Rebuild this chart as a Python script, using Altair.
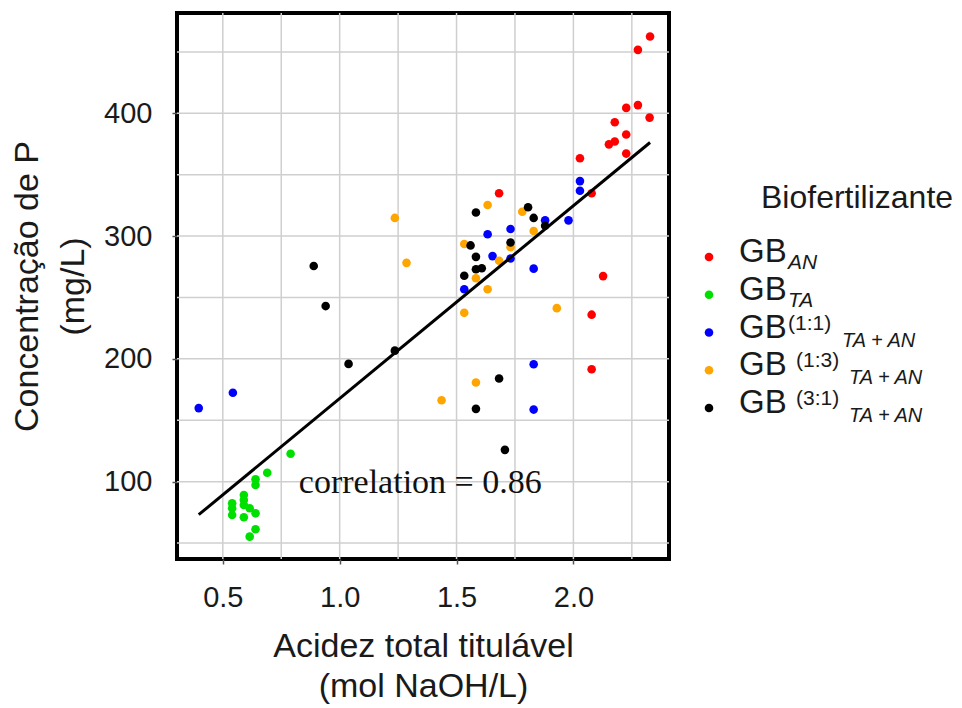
import altair as alt
import pandas as pd

# ---------------- data ----------------
an_x = [2.328, 2.276, 2.276, 2.226, 2.326, 2.177, 2.226, 2.177, 2.152, 2.226, 2.028, 1.682, 2.078, 2.127, 2.078, 2.078]
an_y = [462.5, 451.7, 406.7, 404.4, 396.5, 392.7, 382.8, 377.0, 374.7, 367.2, 363.4, 334.9, 334.9, 267.4, 236.0, 191.6]

ta_x = [0.79, 0.69, 0.64, 0.64, 0.59, 0.59, 0.59, 0.54, 0.54, 0.54, 0.59, 0.615, 0.64, 0.64, 0.615]
ta_y = [122.7, 107.3, 101.9, 97.3, 89.1, 85.1, 81.0, 82.4, 78.3, 72.9, 71.0, 78.3, 74.2, 61.2, 55.2]

m11_x = [0.397, 0.543, 2.028, 2.028, 1.979, 1.879, 1.731, 1.633, 1.654, 1.731, 1.830, 1.533, 1.830, 1.830]
m11_y = [159.9, 172.4, 344.8, 336.9, 312.8, 312.8, 305.8, 301.5, 283.7, 281.7, 273.5, 256.7, 195.6, 158.7]

m13_x = [1.236, 1.633, 1.781, 1.830, 1.533, 1.731, 1.286, 1.682, 1.583, 1.633, 1.533, 1.929, 1.583, 1.436]
m13_y = [314.8, 325.3, 319.8, 304.1, 293.6, 291.0, 278.2, 279.9, 265.7, 256.7, 237.5, 241.3, 180.8, 166.3]

m31_x = [1.806, 1.583, 1.830, 1.879, 1.560, 1.731, 1.583, 1.583, 1.608, 1.533, 0.889, 0.940, 1.236, 1.038, 1.682, 1.583, 1.707]
m31_y = [323.5, 319.2, 314.8, 308.4, 292.4, 294.8, 283.1, 273.0, 273.8, 267.7, 275.6, 243.0, 206.7, 195.9, 184.0, 159.3, 125.9]

groups = ["GB_AN", "GB_TA", "GB_11", "GB_13", "GB_31"]
colors = ["#ff0000", "#00e000", "#0000ff", "#ffa500", "#000000"]

leg_sup = ["", "", "(1:1)", "(1:3)", "(3:1)"]
leg_sub = ["AN", "TA", "TA + AN", "TA + AN", "TA + AN"]
leg_title = "Biofertilizante"

x_ticks = [0.5, 1.0, 1.5, 2.0]
y_ticks = [100, 200, 300, 400]
grid_x = [0.5, 0.75, 1.0, 1.25, 1.5, 1.75, 2.0, 2.25]
grid_y = [50, 100, 150, 200, 250, 300, 350, 400, 450]

x_title = ["Acidez total titulável", "(mol NaOH/L)"]
y_title = ["Concentração de P", "(mg/L)"]
corr_label = "correlation = 0.86"

# ---------------- tables ----------------
rows = []
for g, xs_, ys_ in zip(groups, [an_x, ta_x, m11_x, m13_x, m31_x], [an_y, ta_y, m11_y, m13_y, m31_y]):
    rows += [{"x": a, "y": b, "g": g} for a, b in zip(xs_, ys_)]
df = pd.DataFrame(rows)

leg_df = pd.DataFrame({"g": groups, "i": list(range(len(groups))), "sup": leg_sup, "sub": leg_sub})

SANS = "Liberation Sans, Arial, sans-serif"
SERIF = "Liberation Serif, Times New Roman, serif"
TXT = "#1a1a1a"

xs = alt.Scale(domain=[0.304, 2.409], nice=False, zero=False)
ys = alt.Scale(domain=[37.0, 481.7], nice=False, zero=False)
cs = alt.Scale(domain=groups, range=colors)

grid_v = alt.Chart(pd.DataFrame({"gx": grid_x})).mark_rule(color="#cfcfcf", strokeWidth=1.5).encode(
    x=alt.X("gx:Q", scale=xs))
grid_h = alt.Chart(pd.DataFrame({"gy": grid_y})).mark_rule(color="#cfcfcf", strokeWidth=1.5).encode(
    y=alt.Y("gy:Q", scale=ys))

pts = alt.Chart(df).mark_circle(size=74, opacity=1).encode(
    x=alt.X("x:Q", scale=xs, axis=alt.Axis(values=x_ticks, format=".1f", title=x_title,
                                           labelPadding=19, titlePadding=17, titleFontSize=34,
                                           titleLineHeight=40)),
    y=alt.Y("y:Q", scale=ys, axis=alt.Axis(values=y_ticks, format="d", title=y_title,
                                           labelPadding=20, titlePadding=13, titleFontSize=34,
                                           titleLineHeight=46)),
    color=alt.Color("g:N", scale=cs, legend=None),
)

fit = alt.Chart(df).transform_regression("x", "y").mark_line(color="black", strokeWidth=3).encode(
    x=alt.X("x:Q", scale=xs), y=alt.Y("y:Q", scale=ys))

corr = alt.Chart(pd.DataFrame({"t": [corr_label]})).mark_text(
    font=SERIF, fontSize=34, align="center", baseline="alphabetic", color="#111111").encode(
    x=alt.datum(1.345), y=alt.datum(90.8), text="t:N")

main = alt.layer(grid_v, grid_h, pts, fit, corr)

# ---------------- custom legend (sub/superscripts) ----------------
ly = alt.Y("i:Q", scale=alt.Scale(domain=[0, 4], range=[244, 395]), axis=None)
lb = alt.Chart(leg_df)

l_dots = lb.mark_circle(size=74, opacity=1).encode(
    x=alt.value(532), y=ly, color=alt.Color("g:N", scale=cs, legend=None))
l_gb = lb.mark_text(text="GB", font=SANS, fontSize=33, align="left", baseline="alphabetic",
                    dy=5, color=TXT).encode(x=alt.value(562), y=ly)
l_sub_a = lb.transform_filter("datum.i < 2").mark_text(
    font=SANS, fontSize=21, fontStyle="italic", align="left", baseline="alphabetic", dy=12, color=TXT
).encode(x=alt.value(611), y=ly, text="sub:N")
l_sup_b = lb.transform_filter("datum.i == 2").mark_text(
    font=SANS, fontSize=21, align="left", baseline="alphabetic", dy=-3, color=TXT
).encode(x=alt.value(611), y=ly, text="sup:N")
l_sub_b = lb.transform_filter("datum.i == 2").mark_text(
    font=SANS, fontSize=20, fontStyle="italic", align="left", baseline="alphabetic", dy=14, color=TXT
).encode(x=alt.value(665), y=ly, text="sub:N")
l_sup_c = lb.transform_filter("datum.i > 2").mark_text(
    font=SANS, fontSize=21, align="left", baseline="alphabetic", dy=-3, color=TXT
).encode(x=alt.value(619), y=ly, text="sup:N")
l_sub_c = lb.transform_filter("datum.i > 2").mark_text(
    font=SANS, fontSize=20, fontStyle="italic", align="left", baseline="alphabetic", dy=14, color=TXT
).encode(x=alt.value(672), y=ly, text="sub:N")
l_title = alt.Chart(pd.DataFrame({"t": [leg_title]})).mark_text(
    font=SANS, fontSize=32, align="left", baseline="alphabetic", color=TXT
).encode(x=alt.value(584), y=alt.value(195), text="t:N")

legend = alt.layer(l_dots, l_gb, l_sub_a, l_sup_b, l_sub_b, l_sup_c, l_sub_c, l_title)

chart = alt.layer(main, legend).resolve_scale(y="independent").properties(
    width=492, height=546,
    autosize=alt.AutoSizeParams(type="none"),
    padding={"left": 177, "top": 13, "right": 293, "bottom": 149},
).configure_view(stroke="black", strokeWidth=4).configure_axis(
    grid=False, domain=False,
    labelFont=SANS, labelFontSize=29, labelColor=TXT,
    tickColor="#555555", tickSize=5, tickWidth=1.5,
    titleFont=SANS, titleFontWeight="normal", titleColor=TXT,
)

chart.save("out.html", embed_options={"renderer": "svg", "actions": False})
